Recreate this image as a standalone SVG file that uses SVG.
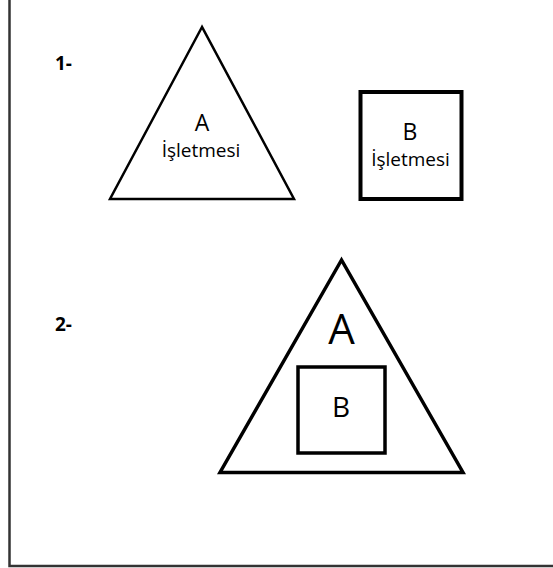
<svg xmlns="http://www.w3.org/2000/svg" width="553" height="568" viewBox="0 0 553 568">
<style>
.t{font-family:"Open Sans","Noto Sans","Liberation Sans",sans-serif;fill:#000;text-anchor:middle}
.n{font-family:"Open Sans","Noto Sans","Liberation Sans",sans-serif;font-weight:bold;font-size:19px;fill:#000}
.s{fill:#fff;stroke:#000;stroke-linejoin:miter}
</style>
<rect width="553" height="568" fill="#fff"/>
<path d="M9.5 -5 V566 H560" fill="none" stroke="#333" stroke-width="2.5"/>
<text class="n" x="55" y="70">1-</text>
<text class="n" x="55" y="331">2-</text>
<g id="triA1">
<polygon class="s" points="202,27 110,199 294,199" stroke-width="2.5"/>
<text class="t" x="202" y="131" font-size="23">A</text>
<text class="t" x="201" y="157" font-size="19">İşletmesi</text>
</g>
<g id="sqB1">
<rect class="s" x="360.5" y="92" width="101" height="107" stroke-width="4"/>
<text class="t" x="410" y="140" font-size="23">B</text>
<text class="t" x="410.5" y="166" font-size="19">İşletmesi</text>
</g>
<g id="triA2">
<polygon class="s" points="341.5,260 220,472.5 463,472.5" stroke-width="3.5"/>
<text class="t" x="341.5" y="344" font-size="42">A</text>
</g>
<g id="sqB2">
<rect class="s" x="298" y="367" width="87" height="86" stroke-width="3.5"/>
<text class="t" x="341" y="417" font-size="28">B</text>
</g>
</svg>
